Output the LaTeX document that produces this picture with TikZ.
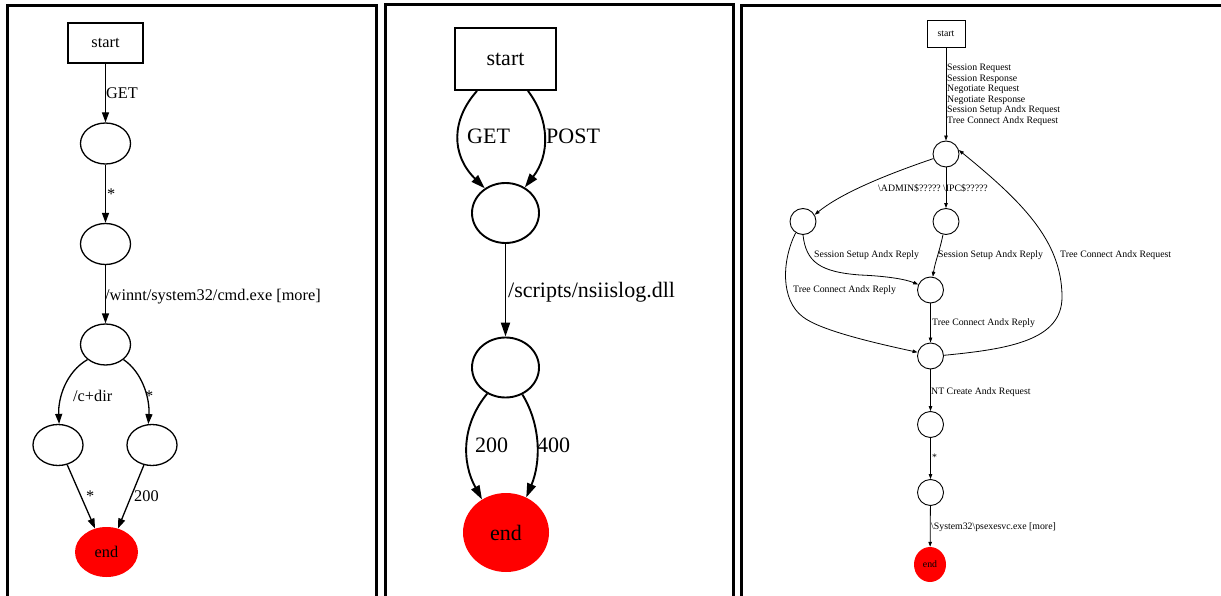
\documentclass[tikz,border=0pt]{standalone}
\usepackage{fontspec}
\setmainfont{Liberation Serif}
\usetikzlibrary{shapes.geometric,arrows.meta}
\begin{document}
\begin{tikzpicture}[x=1pt,y=-1pt,
  frame/.style={draw, line width=3pt},
  p1font/.style={font=\fontsize{16.3}{19}\selectfont},
  p2font/.style={font=\fontsize{22}{26}\selectfont},
  p3font/.style={font=\fontsize{9.8}{10.5}\selectfont},
  p1box/.style={draw, rectangle, minimum width=75pt, minimum height=40pt, line width=1.3pt, inner sep=0, p1font},
  p1ell/.style={draw, ellipse, minimum width=50pt, minimum height=41pt, line width=1.3pt, inner sep=0},
  p1end/.style={ellipse, fill=red, minimum width=63pt, minimum height=50pt, inner sep=0, p1font},
  p1edge/.style={line width=1.3pt, -{Triangle[length=10pt,width=7pt]}},
  p1lab/.style={anchor=base west, inner sep=0, p1font},
  p2box/.style={draw, rectangle, minimum width=101pt, minimum height=62pt, line width=1.9pt, inner sep=0, p2font},
  p2ell/.style={draw, ellipse, minimum width=67pt, minimum height=60pt, line width=1.9pt, inner sep=0},
  p2end/.style={ellipse, fill=red, minimum width=86pt, minimum height=79pt, inner sep=0, p2font},
  p2edge/.style={line width=1.9pt, -{Triangle[length=14pt,width=9pt]}},
  p2lab/.style={anchor=base west, inner sep=0, p2font},
  p3box/.style={draw, rectangle, minimum width=38pt, minimum height=27pt, line width=0.9pt, inner sep=0, p3font},
  p3c/.style={draw, circle, minimum size=26pt, line width=0.9pt, inner sep=0},
  p3end/.style={ellipse, fill=red, minimum width=32pt, minimum height=35pt, inner sep=0, p3font},
  p3edge/.style={line width=0.8pt, -{Triangle[length=5pt,width=3.5pt]}},
  p3lab/.style={anchor=base west, inner sep=0, p3font}
]
\useasboundingbox (0,0) rectangle (1221,596);
\clip (0,0) rectangle (1221,596);
\fill[white] (0,0) rectangle (1221,596);

% frames
\draw[frame] (7,5.5) rectangle (376.5,620);
\draw[frame] (385,5) rectangle (733,620);
\draw[frame] (741.5,5.5) rectangle (1240,620);

% ---------- panel 1 ----------
\node[p1box] (s1) at (105.5,43) {start};
\node[p1ell] (a1) at (105.5,143.5) {};
\node[p1ell] (a2) at (105.5,244) {};
\node[p1ell] (a3) at (105.5,344.5) {};
\node[p1ell] (a4) at (58,445) {};
\node[p1ell] (a5) at (152,445) {};
\node[p1end] (e1) at (106.5,552) {end};

\draw[p1edge] (s1) -- (a1);
\draw[p1edge] (a1) -- (a2);
\draw[p1edge] (a2) -- (a3);
\draw[p1edge] (a3.220) .. controls (66,372) and (58,398) .. (a4.87);
\draw[p1edge] (a3.320) .. controls (142,372) and (150,398) .. (a5.100);
\draw[p1edge] (a4.295) -- (e1.116);
\draw[p1edge] (a5.248) -- (e1.64);

\node[p1lab] (l11) at (106,99) {GET};
\node[p1lab] (l12) at (107,200) {*};
\node[p1lab] (l13) at (105,300) {/winnt/system32/cmd.exe [more]};
\node[p1lab] (l14) at (73,401) {/c+dir};
\node[p1lab] (l15) at (145,401) {*};
\node[p1lab] (l16) at (86,501) {*};
\node[p1lab] (l17) at (134,501) {200};

% ---------- panel 2 ----------
\node[p2box] (s2) at (505.5,59) {start};
\node[p2ell] (b1) at (505.5,213) {};
\node[p2ell] (b2) at (505.5,367.5) {};
\node[p2end] (e2) at (506,532.5) {end};

\draw[p2edge] ([xshift=-28.5pt]s2.south) .. controls (451,120) and (451,155) .. (b1.130);
\draw[p2edge] ([xshift=22.5pt]s2.south) .. controls (550,120) and (550,155) .. (b1.53);
\draw[p2edge] (b1) -- (b2);
\draw[p2edge] (b2.235) .. controls (461.5,425) and (461.5,462) .. (e2.126);
\draw[p2edge] (b2.302) .. controls (541,425) and (541,462) .. (e2.60);

\node[p2lab] (l21) at (467,144) {GET};
\node[p2lab] (l22) at (546,144) {POST};
\node[p2lab] (l23) at (508,298) {/scripts/nsiislog.dll};
\node[p2lab] (l24) at (475,452) {200};
\node[p2lab] (l25) at (537,452) {400};

% ---------- panel 3 ----------
\node[p3box] (s3) at (946,33.5) {start};
\node[p3c] (c1) at (946,154) {};
\node[p3c] (c2) at (803,221.5) {};
\node[p3c] (c3) at (946,221.5) {};
\node[p3c] (c4) at (930.5,290) {};
\node[p3c] (c5) at (930.5,356) {};
\node[p3c] (c6) at (930.5,424.5) {};
\node[p3c] (c7) at (930.5,492.5) {};
\node[p3end] (e3) at (930,564.5) {end};

\draw[p3edge] (s3) -- (c1);
\draw[p3edge] (c1.200) .. controls (900,170) and (845,190) .. (c2.30);
\draw[p3edge] (c1) -- (c3);
\draw[p3edge] (c2.south) .. controls (806,262) and (820,272) .. (860,275) .. controls (885,276) and (905,279) .. (c4.156);
\draw[p3edge] (c3.257) .. controls (940,250) and (935,262) .. (c4.80);
\draw[p3edge] (c2.237) .. controls (782,260) and (780,300) .. (803,317) .. controls (820,330) and (870,342) .. (c5.164);
\draw[p3edge] (c5.3) .. controls (1010,349) and (1062,340) .. (1062,297) .. controls (1062,240) and (1020,200) .. (c1.17);
\draw[p3edge] (c4) -- (c5);
\draw[p3edge] (c5) -- (c6);
\draw[p3edge] (c6) -- (c7);
\draw[p3edge] (c7) -- (e3);

\node[p3lab, anchor=north west, align=left] (m1) at (947,64) {Session Request\\Session Response\\Negotiate Request\\Negotiate Response\\Session Setup Andx Request\\Tree Connect Andx Request};
\node[p3lab, anchor=base east] (m2) at (941,191.3) {\textbackslash ADMIN\$?????};
\node[p3lab] (m3) at (943,191.3) {\textbackslash IPC\$?????};
\node[p3lab] (m4) at (814,258) {Session Setup Andx Reply};
\node[p3lab] (m5) at (938,258) {Session Setup Andx Reply};
\node[p3lab] (m6) at (1060,258) {Tree Connect Andx Request};
\node[p3lab] (m7) at (793,292) {Tree Connect Andx Reply};
\node[p3lab] (m8) at (932,325.5) {Tree Connect Andx Reply};
\node[p3lab] (m9) at (931,394) {NT Create Andx Request};
\node[p3lab] (m10) at (932,460.5) {*};
\node[p3lab] (m11) at (931,529) {\textbackslash System32\textbackslash psexesvc.exe [more]};
\end{tikzpicture}
\end{document}
